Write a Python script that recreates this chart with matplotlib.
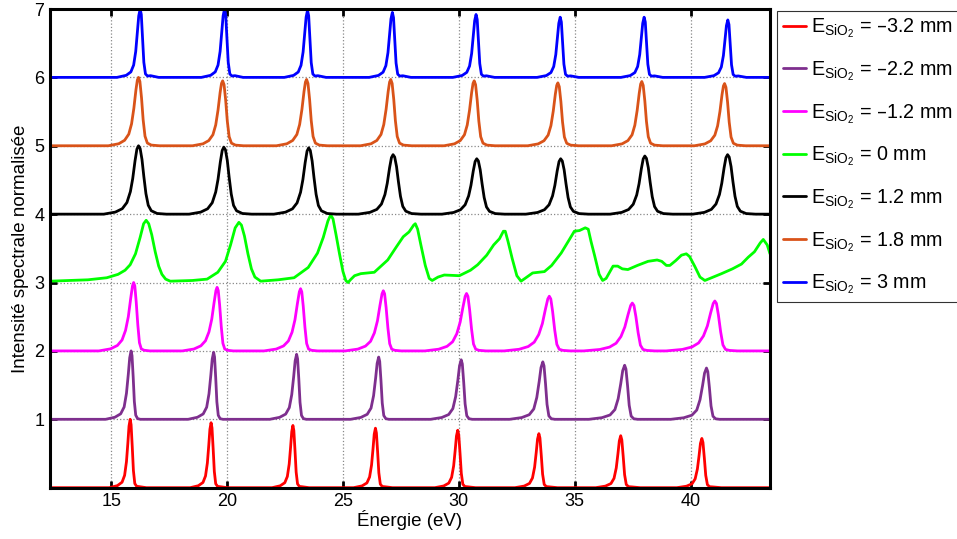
import matplotlib
matplotlib.use("Agg")
import matplotlib.pyplot as plt
import numpy as np

plt.rcParams['font.family'] = ['Liberation Sans', 'DejaVu Sans']
plt.rcParams['mathtext.default'] = 'regular'

# energy window of the spectra (eV)
e_min = 12.36
e_max = 43.42

# legend labels / colours, bottom to top (vertical offset = index)
labels = ['$E_{SiO_2}$ = \u20133.2 mm', '$E_{SiO_2}$ = \u20132.2 mm', '$E_{SiO_2}$ = \u20131.2 mm',
          '$E_{SiO_2}$ = 0 mm', '$E_{SiO_2}$ = 1.2 mm', '$E_{SiO_2}$ = 1.8 mm', '$E_{SiO_2}$ = 3 mm']
colors = ['#FF0000', '#7E2F8E', '#FF00FF', '#00FF00', '#000000', '#D95319', '#0000FF']

# harmonic peaks: centre (eV), height, relative width, and the peak profile
red_c = [15.82, 19.31, 22.84, 26.40, 29.95, 33.45, 36.98, 40.48]
red_h = [1.00, 0.95, 0.91, 0.87, 0.84, 0.79, 0.76, 0.72]
red_w = [1.0, 1.0, 1.0, 1.05, 1.1, 1.15, 1.2, 1.2]
red_dx = [-0.9, -0.55, -0.35, -0.24, -0.16, -0.1, -0.05, 0.0, 0.04, 0.09, 0.14, 0.2, 0.28, 0.4, 0.7]
red_pf = [0.0, 0.03, 0.08, 0.18, 0.38, 0.65, 0.9, 1.0, 0.92, 0.6, 0.25, 0.06, 0.02, 0.015, 0.0]

purple_c = [15.86, 19.42, 23.00, 26.54, 30.10, 33.62, 37.15, 40.68]
purple_h = [1.00, 0.98, 0.95, 0.91, 0.87, 0.84, 0.79, 0.75]
purple_w = [1.0, 1.0, 1.05, 1.1, 1.2, 1.3, 1.4, 1.4]
purple_dx = [-1.1, -0.7, -0.45, -0.3, -0.2, -0.12, -0.06, 0.0, 0.04, 0.09, 0.14, 0.2, 0.28, 0.4, 0.7]
purple_pf = [0.0, 0.03, 0.08, 0.18, 0.38, 0.66, 0.9, 1.0, 0.93, 0.62, 0.26, 0.06, 0.01, 0.0, 0.0]

magenta_c = [15.97, 19.57, 23.17, 26.74, 30.33, 33.90, 37.48, 41.04]
magenta_h = [1.00, 0.93, 0.91, 0.88, 0.84, 0.80, 0.70, 0.73]
magenta_w = [1.0, 1.0, 1.05, 1.1, 1.2, 1.3, 1.4, 1.4]
magenta_dx = [-1.5, -1.0, -0.7, -0.5, -0.35, -0.23, -0.13, -0.05, 0.0, 0.05, 0.11, 0.18, 0.25, 0.33, 0.45, 0.7]
magenta_pf = [0.0, 0.03, 0.08, 0.16, 0.3, 0.5, 0.76, 0.95, 1.0, 0.95, 0.72, 0.38, 0.12, 0.03, 0.01, 0.0]

black_c = [16.18, 19.86, 23.52, 27.16, 30.77, 34.39, 38.02, 41.59]
black_h = [1.00, 0.98, 0.97, 0.87, 0.81, 0.81, 0.85, 0.87]
black_w = [1.0, 1.0, 1.0, 1.0, 1.0, 1.0, 1.0, 1.0]
black_dx = [-1.5, -1.0, -0.7, -0.5, -0.35, -0.25, -0.15, -0.07, 0.0, 0.07, 0.15, 0.23, 0.32, 0.42, 0.55, 0.8, 1.2]
black_pf = [0.0, 0.03, 0.08, 0.17, 0.33, 0.52, 0.78, 0.95, 1.0, 0.96, 0.8, 0.55, 0.3, 0.13, 0.05, 0.01, 0.0]

orange_c = [16.18, 19.81, 23.43, 27.06, 30.66, 34.27, 37.89, 41.46]
orange_h = [1.00, 0.95, 0.97, 0.97, 0.95, 0.92, 0.94, 0.91]
orange_w = [1.0, 1.0, 1.0, 1.0, 1.0, 1.0, 1.0, 1.0]
orange_dx = [-1.3, -0.85, -0.6, -0.42, -0.3, -0.2, -0.11, -0.05, 0.0, 0.06, 0.13, 0.2, 0.28, 0.38, 0.55, 0.9]
orange_pf = [0.0, 0.03, 0.08, 0.17, 0.32, 0.55, 0.82, 0.96, 1.0, 0.94, 0.7, 0.38, 0.14, 0.04, 0.01, 0.0]

blue_c = [16.25, 19.89, 23.47, 27.13, 30.74, 34.37, 37.99, 41.60]
blue_h = [1.00, 1.00, 0.98, 0.95, 0.92, 0.88, 0.88, 0.84]
blue_w = [1.0, 1.0, 1.0, 1.0, 1.0, 1.0, 1.0, 1.0]
blue_dx = [-1.0, -0.6, -0.4, -0.28, -0.19, -0.12, -0.06, 0.0, 0.05, 0.1, 0.16, 0.23, 0.32, 0.45, 0.8]
blue_pf = [0.0, 0.03, 0.08, 0.18, 0.38, 0.66, 0.9, 1.0, 0.92, 0.6, 0.22, 0.05, 0.02, 0.025, 0.0]

# E = 0 mm spectrum, read point by point
green_e = [12.36, 14.0, 14.81, 15.3, 15.6, 15.82, 16.05, 16.25, 16.4, 16.51, 16.62, 16.75, 16.9,
           17.05, 17.19, 17.35, 17.55, 18.5, 19.14, 19.6, 19.93, 20.15, 20.35, 20.51, 20.62, 20.75,
           20.9, 21.05, 21.2, 21.45, 22.2, 22.89, 23.5, 23.9, 24.15, 24.35, 24.47, 24.57, 24.7,
           24.85, 25.0, 25.12, 25.22, 25.32, 25.5, 25.77, 26.35, 26.93, 27.3, 27.6, 27.85, 28.05,
           28.12, 28.22, 28.36, 28.55, 28.72, 28.85, 29.1, 29.37, 30.02, 30.5, 30.81, 31.2, 31.5,
           31.75, 31.92, 32.0, 32.12, 32.3, 32.5, 32.68, 32.85, 33.18, 33.69, 34.0, 34.41, 34.75,
           34.98, 35.2, 35.45, 35.58, 35.7, 35.85, 36.05, 36.2, 36.35, 36.5, 36.65, 36.85, 37.05,
           37.29, 37.7, 38.16, 38.55, 38.75, 38.95, 39.1, 39.35, 39.6, 39.81, 39.95, 40.17, 40.4,
           40.61, 40.9, 41.33, 41.8, 42.19, 42.48, 42.75, 43.0, 43.13, 43.3, 43.42]
green_i = [0.02, 0.04, 0.07, 0.12, 0.18, 0.26, 0.42, 0.66, 0.86, 0.91, 0.86, 0.70, 0.45,
           0.24, 0.12, 0.05, 0.02, 0.03, 0.05, 0.15, 0.31, 0.55, 0.80, 0.88, 0.84, 0.68,
           0.42, 0.20, 0.08, 0.02, 0.04, 0.07, 0.22, 0.43, 0.66, 0.90, 0.99, 0.93, 0.70,
           0.42, 0.16, 0.03, 0.00, 0.04, 0.10, 0.13, 0.15, 0.33, 0.52, 0.67, 0.74, 0.84,
           0.86, 0.78, 0.55, 0.25, 0.06, 0.03, 0.08, 0.11, 0.10, 0.18, 0.26, 0.40, 0.55,
           0.64, 0.75, 0.75, 0.60, 0.35, 0.10, 0.02, 0.06, 0.14, 0.16, 0.25, 0.43, 0.62,
           0.75, 0.76, 0.80, 0.78, 0.60, 0.40, 0.12, 0.03, 0.06, 0.15, 0.24, 0.24, 0.20,
           0.19, 0.25, 0.31, 0.33, 0.31, 0.25, 0.25, 0.32, 0.40, 0.42, 0.38, 0.24, 0.08,
           0.03, 0.07, 0.13, 0.20, 0.27, 0.37, 0.45, 0.58, 0.63, 0.55, 0.42]

peaks = [(red_c, red_h, red_w, red_dx, red_pf),
         (purple_c, purple_h, purple_w, purple_dx, purple_pf),
         (magenta_c, magenta_h, magenta_w, magenta_dx, magenta_pf),
         None,
         (black_c, black_h, black_w, black_dx, black_pf),
         (orange_c, orange_h, orange_w, orange_dx, orange_pf),
         (blue_c, blue_h, blue_w, blue_dx, blue_pf)]

fig = plt.figure(figsize=(9.57, 5.39), dpi=100)
ax = fig.add_axes([0.0522, 0.0952, 0.7524, 0.8881])

for k in range(7):
    if peaks[k] is None:
        x = np.array(green_e)
        y = np.array(green_i) + k
    else:
        cs, hs, ws, dx, pf = peaks[k]
        x = [e_min]
        y = [k]
        for c, h, w in zip(cs, hs, ws):
            x += list(c + w * np.array(dx))
            y += list(k + h * np.array(pf))
        x.append(e_max)
        y.append(k)
    ax.plot(x, y, color=colors[k], lw=2.0, label=labels[k],
            solid_joinstyle='round', solid_capstyle='round')

ax.set_xlim(e_min, e_max)
ax.set_ylim(0, 7)
ax.set_xticks([15, 20, 25, 30, 35, 40])
ax.set_yticks([1, 2, 3, 4, 5, 6, 7])
ax.grid(True, ls=':', color='#888888', lw=0.9)
ax.tick_params(direction='in', length=5, width=2, labelsize=13, top=True, right=True, pad=4)
for s in ax.spines.values():
    s.set_linewidth(2.2)

ax.set_xlabel('Énergie (eV)', fontsize=13.5, labelpad=0)
ax.set_ylabel('Intensité spectrale normalisée', fontsize=13.5, labelpad=4)

leg = ax.legend(loc='upper left', bbox_to_anchor=(1.01, 0.996), fontsize=14.2, frameon=True,
                fancybox=False, edgecolor='black', handlelength=1.2, handletextpad=0.25,
                labelspacing=0.97, borderaxespad=0.0, borderpad=0.28)
leg.get_frame().set_linewidth(0.8)

fig.savefig('out.png', dpi=100)
